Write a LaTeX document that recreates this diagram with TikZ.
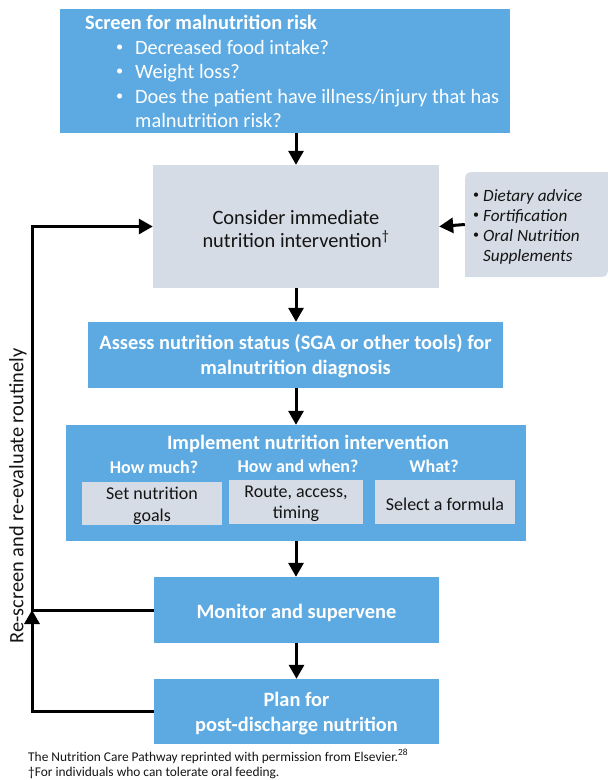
\documentclass[tikz,border=0pt]{standalone}
\usepackage{fontspec}
\setmainfont{Carlito}
\usetikzlibrary{arrows.meta}
\definecolor{boxblue}{RGB}{93,170,226}
\definecolor{boxgray}{RGB}{214,220,229}
\definecolor{ink}{RGB}{20,20,20}
\newcommand{\smbul}{\raisebox{0.12em}{\scalebox{0.7}{•}}}
\tikzset{
  bluebox/.style={fill=boxblue, draw=none, inner sep=0pt},
  graybox/.style={fill=boxgray, draw=none, inner sep=0pt},
  bluetext/.style={inner sep=0pt, text=white, align=center,
    font=\bfseries\fontsize{20.4}{25}\selectfont},
  graytext/.style={inner sep=0pt, text=ink, align=center,
    font=\fontsize{20.4}{23.5}\selectfont},
  smalltext/.style={inner sep=0pt, text=ink, align=center,
    font=\fontsize{18}{21.5}\selectfont},
  sub/.style={text=white, font=\bfseries\fontsize{18}{21}\selectfont, inner sep=0pt},
  line/.style={text=white, font=\fontsize{20.4}{24}\selectfont, inner sep=0pt, anchor=base west},
  arr/.style={line width=3pt, -{Triangle[length=14pt,width=15pt]}},
  plain/.style={line width=3pt},
}
\begin{document}
\begin{tikzpicture}[x=1pt,y=-1pt]
\useasboundingbox (0,0) rectangle (608,780);
% top box
\node[bluebox, minimum width=450, minimum height=124] (top) at (285,71) {};
\node[line, font=\bfseries\fontsize{20.4}{24}\selectfont] (t0) at (85,29) {Screen for malnutrition risk};
\node[line] (b1) at (116,54) {\smbul};
\node[line] (t1) at (135,54) {Decreased food intake?};
\node[line] (b2) at (116,78) {\smbul};
\node[line] (t2) at (135,78) {Weight loss?};
\node[line] (b3) at (116,103) {\smbul};
\node[line] (t3) at (135,103) {Does the patient have illness/injury that has};
\node[line] (t4) at (135,127) {malnutrition risk?};
% consider
\node[graybox, minimum width=286, minimum height=123] (consider) at (296,226.5) {};
\node[graytext] (considert) at ([yshift=-2.5pt]consider.center)
  {Consider immediate\\nutrition intervention\textsuperscript{†}};
% side box
\fill[boxgray] (465,186) .. controls (465,172) .. (479,172) -- (608,172) -- (608,263)
  .. controls (608,277) .. (594,277) -- (465,277) -- cycle;
\node[minimum width=143, minimum height=105, inner sep=0pt] (side) at (536.5,224.5) {};
\node[anchor=west, inner sep=0pt, text=ink, font=\fontsize{17.2}{20}\selectfont] (sidetext) at (473,227)
  {\begin{tabular}{@{}l@{\hspace{4pt}}l@{}}
   \smbul&\textit{Dietary advice}\\
   \smbul&\textit{Fortification}\\
   \smbul&\textit{Oral Nutrition}\\
    &\textit{Supplements}
   \end{tabular}};
% assess
\node[bluebox, minimum width=415, minimum height=66] (assess) at (295.5,355) {};
\node[bluetext] (assesst) at ([yshift=-1.5pt]assess.center)
  {Assess nutrition status (SGA or other tools) for\\malnutrition diagnosis};
% implement
\node[bluebox, minimum width=460, minimum height=116] (impl) at (296,483) {};
\node[sub, font=\bfseries\fontsize{20.4}{24}\selectfont, anchor=base] (implt) at (308,449) {Implement nutrition intervention};
\node[sub, anchor=base] (h1) at (154,473) {How much?};
\node[sub, anchor=base] (h2) at (298,472) {How and when?};
\node[sub, anchor=base] (h3) at (434,472) {What?};
\node[graybox, minimum width=140, minimum height=43] (g1) at (152,503.5) {};
\node[graybox, minimum width=134, minimum height=44] (g2) at (296,502) {};
\node[graybox, minimum width=140, minimum height=44] (g3) at (445,502) {};
\node[smalltext] (g1t) at ([yshift=-2.5pt]g1.center) {Set nutrition\\goals};
\node[smalltext] (g2t) at ([yshift=-2pt]g2.center) {Route, access,\\timing};
\node[smalltext] (g3t) at ([yshift=-2pt]g3.center) {Select a formula};
% monitor and plan
\node[bluebox, minimum width=285, minimum height=66] (monitor) at (296.5,610) {};
\node[bluetext] (monitort) at ([yshift=-2.5pt]monitor.center) {Monitor and supervene};
\node[bluebox, minimum width=285, minimum height=65] (plan) at (296.5,711.5) {};
\node[bluetext] (plant) at ([yshift=-2.5pt]plan.center) {Plan for\\post-discharge nutrition};
% vertical arrows
\draw[arr] (top.south -| consider.north) -- (consider.north);
\draw[arr] (consider.south) -- (consider.south |- assess.north);
\draw[arr] (assess.south -| consider.south) -- (consider.south |- impl.north);
\draw[arr] (impl.south -| consider.south) -- (consider.south |- monitor.north);
\draw[arr] (monitor.south) -- (plan.north);
\draw[arr] (side.west) -- (consider.east);
% feedback loop
\coordinate (L) at (32,610);
\draw[arr] (plan.west) -| (L);
\draw[plain] (monitor.west) -- ([xshift=-1.5pt]L);
\draw[arr] ([yshift=1.5pt]L) |- (consider.west);
\node[rotate=90, inner sep=0pt, text=ink, font=\fontsize{20.4}{24}\selectfont] (loop) at (18,496)
  {Re-screen and re-evaluate routinely};
% footer
\node[anchor=base west, inner sep=0pt, text=ink, font=\fontsize{13.4}{15}\selectfont] (f1) at (28,761)
  {The Nutrition Care Pathway reprinted with permission from Elsevier.\textsuperscript{28}};
\node[anchor=base west, inner sep=0pt, text=ink, font=\fontsize{13.4}{15}\selectfont] (f2) at (28,776)
  {†For individuals who can tolerate oral feeding.};
\end{tikzpicture}
\end{document}
